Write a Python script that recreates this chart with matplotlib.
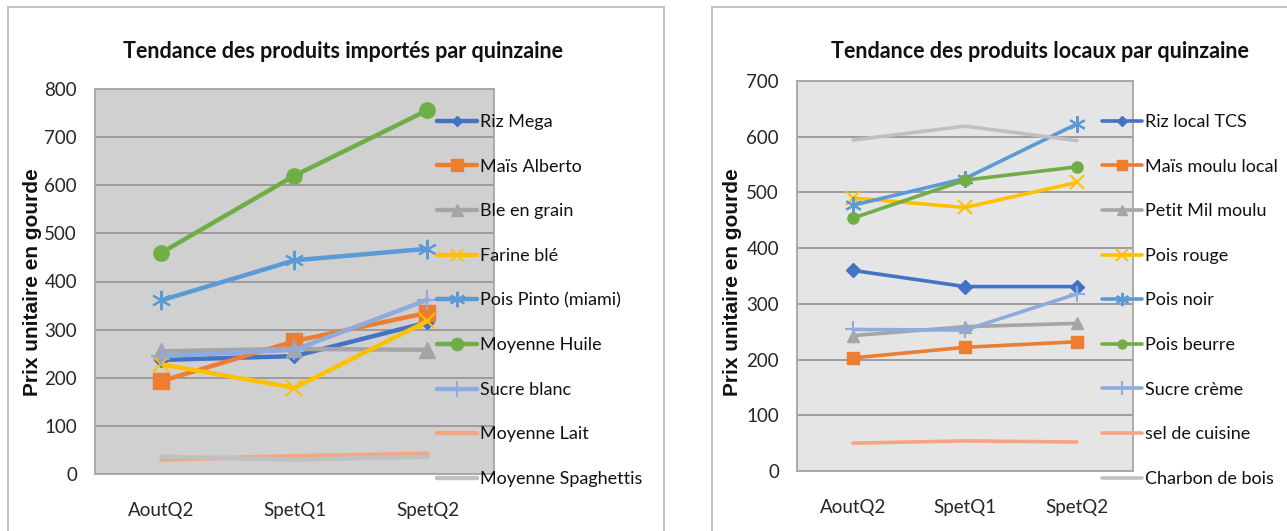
import matplotlib
matplotlib.use("Agg")
import matplotlib.pyplot as plt
from matplotlib import font_manager
from matplotlib.patches import Rectangle

names = {f.name for f in font_manager.fontManager.ttflist}
NARROW = "Lato" if "Lato" in names else "Roboto"

periods = ["AoutQ2", "SpetQ1", "SpetQ2"]

# Imported products
imp_labels = ["Riz Mega", "Maïs Alberto", "Ble en grain", "Farine blé", "Pois Pinto (miami)",
              "Moyenne Huile", "Sucre blanc", "Moyenne Lait", "Moyenne Spaghettis"]
riz_mega = [237, 245, 315]
mais_alberto = [193, 276, 335]
ble_grain = [255, 260, 258]
farine_ble = [228, 179, 318]
pois_pinto = [361, 444, 468]
huile = [460, 620, 756]
sucre_blanc = [245, 258, 362]
lait = [30, 37, 42]
spaghettis = [36, 30, 36]

# Local products
loc_labels = ["Riz local TCS", "Maïs moulu local", "Petit Mil moulu", "Pois rouge", "Pois noir",
              "Pois beurre", "Sucre crème", "sel de cuisine", "Charbon de bois"]
riz_local = [360, 331, 331]
mais_moulu = [203, 222, 232]
petit_mil = [243, 259, 265]
pois_rouge = [490, 473, 518]
pois_noir = [477, 525, 623]
pois_beurre = [454, 522, 546]
sucre_creme = [254, 253, 318]
sel = [50, 54, 52]
charbon = [594, 619, 593]

colors = ["#4472C4", "#ED7D31", "#A5A5A5", "#FFC000", "#5B9BD5", "#70AD47",
          "#8FAADC", "#F4A582", "#C0C0C0"]
asterisk = (6, 2, 0)
imp_markers = [("D", 7), ("s", 11), ("^", 11), ("x", 11), (asterisk, 14), ("o", 11), ("+", 14), (None, 0), (None, 0)]
loc_markers = [("D", 7), ("s", 9), ("^", 9), ("x", 10), (asterisk, 12), ("o", 8), ("+", 12), (None, 0), (None, 0)]

W, H = 1287, 531
fig = plt.figure(figsize=(W / 100, H / 100), dpi=100)

# panel borders
fig.patches.append(Rectangle((8 / W, -0.05), (664 - 8) / W, 1.05 - 7 / H, transform=fig.transFigure,
                             fill=False, edgecolor="#BDBDBD", lw=1.3))
fig.patches.append(Rectangle((712 / W, -0.05), 0.5, 1.05 - 7 / H, transform=fig.transFigure,
                             fill=False, edgecolor="#BDBDBD", lw=1.3))


def make(ax_rect, series, labels, markers, ymax, bg, lw, title, title_x, leg_x, ylabel_x):
    ax = fig.add_axes(ax_rect)
    ax.set_facecolor(bg)
    x = list(range(len(periods)))
    handles = []
    for s, lab, c, (m, ms) in zip(series, labels, colors, markers):
        kw = dict(color=c, lw=lw, solid_capstyle="round", label=lab)
        if m is not None:
            kw.update(marker=m, markersize=ms, markeredgecolor=c, markerfacecolor=c,
                      markeredgewidth=1.5 if m in ("x", "+", asterisk) else 1)
        (h,) = ax.plot(x, s, **kw)
        handles.append(h)
    ax.set_xlim(-0.5, 2.5)
    ax.set_ylim(0, ymax)
    ax.set_yticks(range(0, ymax + 1, 100))
    ax.set_xticks(x)
    ax.set_xticklabels(periods)
    ax.grid(axis="y", color="#9C9C9C", lw=1.4)
    ax.set_axisbelow(True)
    for sp in ax.spines.values():
        sp.set_color("#A6A6A6")
        sp.set_linewidth(1.3)
    ax.tick_params(length=0, labelsize=13.5, pad=13)
    ax.tick_params(axis="x", pad=20)
    for t in ax.get_xticklabels() + ax.get_yticklabels():
        t.set_fontfamily(NARROW)
        t.set_color("#262626")
    fig.text(title_x / W, 1 - 52 / H, title, ha="center", va="center", fontsize=15.5,
             fontweight="bold", family=NARROW, color="#111111")
    fig.text(ylabel_x / W, 1 - 282 / H, "Prix unitaire en gourde", rotation=90, ha="center",
             va="center", fontsize=15, fontweight="bold", family="Liberation Sans", color="#111111")
    leg = ax.legend(handles=handles, loc="upper left",
                    bbox_to_anchor=(leg_x / W, 1 - 114 / H), bbox_transform=fig.transFigure,
                    frameon=False, prop={"family": NARROW, "size": 13}, handlelength=2.2,
                    handletextpad=0.2, labelspacing=1.585, borderaxespad=0, borderpad=0,
                    markerscale=0.8)
    for t in leg.get_texts():
        t.set_color("#111111")
    return ax


make([95 / W, 57 / H, 399 / W, 385 / H],
     [riz_mega, mais_alberto, ble_grain, farine_ble, pois_pinto, huile, sucre_blanc, lait, spaghettis],
     imp_labels, imp_markers, 800, "#D0D0D0", 3.2,
     "Tendance des produits importés par quinzaine", 343, 437, 33)
make([797 / W, 60 / H, 336 / W, 390 / H],
     [riz_local, mais_moulu, petit_mil, pois_rouge, pois_noir, pois_beurre, sucre_creme, sel, charbon],
     loc_labels, loc_markers, 700, "#E5E5E5", 2.6,
     "Tendance des produits locaux par quinzaine", 1040, 1102, 733)

fig.savefig("out.png", dpi=100)
